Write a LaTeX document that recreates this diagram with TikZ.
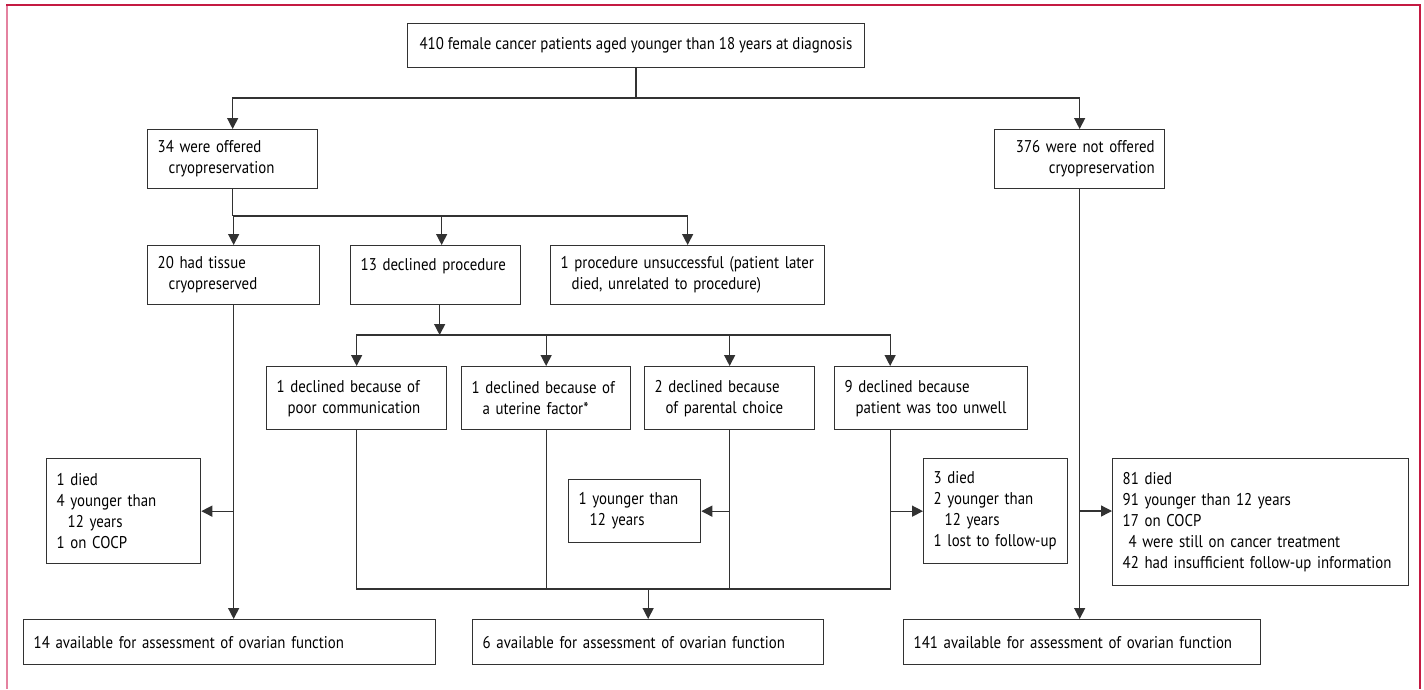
\documentclass[tikz,border=0pt]{standalone}
\usepackage{fontspec}
\setmainfont{PT Sans}[FakeStretch=0.875]
\usetikzlibrary{arrows.meta}
\definecolor{framered}{RGB}{196,26,66}
\definecolor{framepink}{RGB}{228,130,160}
\definecolor{linegray}{RGB}{50,50,50}
\tikzset{
  box/.style={draw=linegray, line width=1.3pt, inner xsep=10pt, inner ysep=0pt,
    align=left, anchor=north west, font=\fontsize{17}{21}\selectfont},
  link/.style={draw=linegray, line width=1.3pt},
  arr/.style={link, -{Triangle[length=11pt,width=11pt]}}
}
\newcommand{\ind}{\hspace*{11pt}}
\begin{document}
\begin{tikzpicture}[x=1pt,y=-1pt]
    \useasboundingbox (0,0) rectangle (1424,689);

    % Draw the frame
    \draw[framepink, line width=2pt] (7,689) -- (7,5);
    \draw[framered, line width=1.5pt] (6,5) -- (1420,5) -- (1420,689);

    % Top of the tree
    \node[box, anchor=north, inner xsep=12pt, minimum height=44pt] (root) at (636,23)
        {410 female cancer patients aged younger than 18 years at diagnosis};
    \node[box, text width=150pt, minimum height=59pt] (offered) at (147,129)
        {34 were offered\\\ind cryopreservation};
    \node[box, text width=150pt, minimum height=59pt, align=right] (notoffered) at (994,129)
        {376 were not offered\\cryopreservation};

    % Second level
    \node[box, text width=152pt, minimum height=59pt] (tissue) at (147,245)
        {20 had tissue\\\ind cryopreserved};
    \node[box, text width=150pt, minimum height=59pt] (declined) at (350,245)
        {13 declined procedure\\\mbox{}};
    \node[box, text width=254pt, minimum height=59pt] (unsucc) at (550,245)
        {1 procedure unsuccessful (patient later\\\ind died, unrelated to procedure)};

    % Reasons for declining
    \node[box, text width=160pt, minimum height=63pt] (poorcomm) at (266,366)
        {1 declined because of\\\ind poor communication};
    \node[box, text width=149pt, minimum height=63pt] (uterine) at (461,366)
        {1 declined because of\\\ind a uterine factor*};
    \node[box, text width=150pt, minimum height=63pt] (parental) at (644,366)
        {2 declined because\\\ind of parental choice};
    \node[box, text width=173pt, minimum height=63pt] (unwell) at (834,366)
        {9 declined because\\\ind patient was too unwell};

    % Excluded
    \node[box, text width=134pt, minimum height=105pt] (died1) at (46,458)
        {1 died\\4 younger than\\\ind 12 years\\1 on COCP};
    \node[box, text width=112pt, minimum height=63pt] (young1) at (568,479)
        {1 younger than\\\ind 12 years};
    \node[box, text width=124pt, minimum height=105pt] (died3) at (923,458)
        {3 died\\2 younger than\\\ind 12 years\\1 lost to follow-up};
    \node[box, text width=276pt, minimum height=127pt] (died81) at (1112,458)
        {81 died\\91 younger than 12 years\\17 on COCP\\\hspace*{6pt}4 were still on cancer treatment\\42 had insufficient follow-up information};

    % Available for assessment
    \node[box, text width=392pt, minimum height=45pt] (avail14) at (23,619)
        {14 available for assessment of ovarian function};
    \node[box, text width=331pt, minimum height=45pt] (avail6) at (472,619)
        {6 available for assessment of ovarian function};
    \node[box, text width=337pt, minimum height=45pt] (avail141) at (903,619)
        {141 available for assessment of ovarian function};

    % Splits
    \draw[link] (root.south) -- (root.south |- 0,98) coordinate (split1);
    \draw[arr] (split1) -| (offered.north);
    \draw[arr] (split1) -| (notoffered.north);

    \draw[link] (offered.south) -- (offered.south |- 0,216) coordinate (split2);
    \draw[arr] (split2) -| (tissue.north);
    \draw[arr] (split2) -| ([xshift=6pt]declined.north);
    \draw[arr] (split2) -| (unsucc.north);

    \coordinate (dx) at ([xshift=4pt]declined.south);
    \draw[arr] (dx) -- (dx |- 0,335) coordinate (split3);
    \foreach \n in {poorcomm, uterine, parental} {
        \draw[arr] (split3) -| (\n.north);
    }
    \coordinate (uwtop) at ([xshift=-41pt]unwell.north);
    \coordinate (uwbot) at ([xshift=-41pt]unwell.south);
    \draw[arr] (split3) -| (uwtop);

    % Joins
    \coordinate (join) at (avail6.north |- 0,589);
    \foreach \n in {poorcomm, uterine, parental} {
        \draw[link] (\n.south) |- (join);
    }
    \draw[link] (uwbot) |- (join);
    \draw[arr] (join) -- (avail6.north);

    \draw[arr] (tissue.south) -- (tissue.south |- avail14.north);
    \draw[arr] (notoffered.south) -- (notoffered.south |- avail141.north);

    % Side branches
    \draw[arr] (tissue.south |- died1.east) -- (died1.east);
    \draw[arr] (parental.south |- young1.east) -- (young1.east);
    \draw[arr] (uwbot |- died3.west) -- (died3.west);
    \draw[arr] (notoffered.south |- 0,511) -- (died81.west |- 0,511);
\end{tikzpicture}
\end{document}
